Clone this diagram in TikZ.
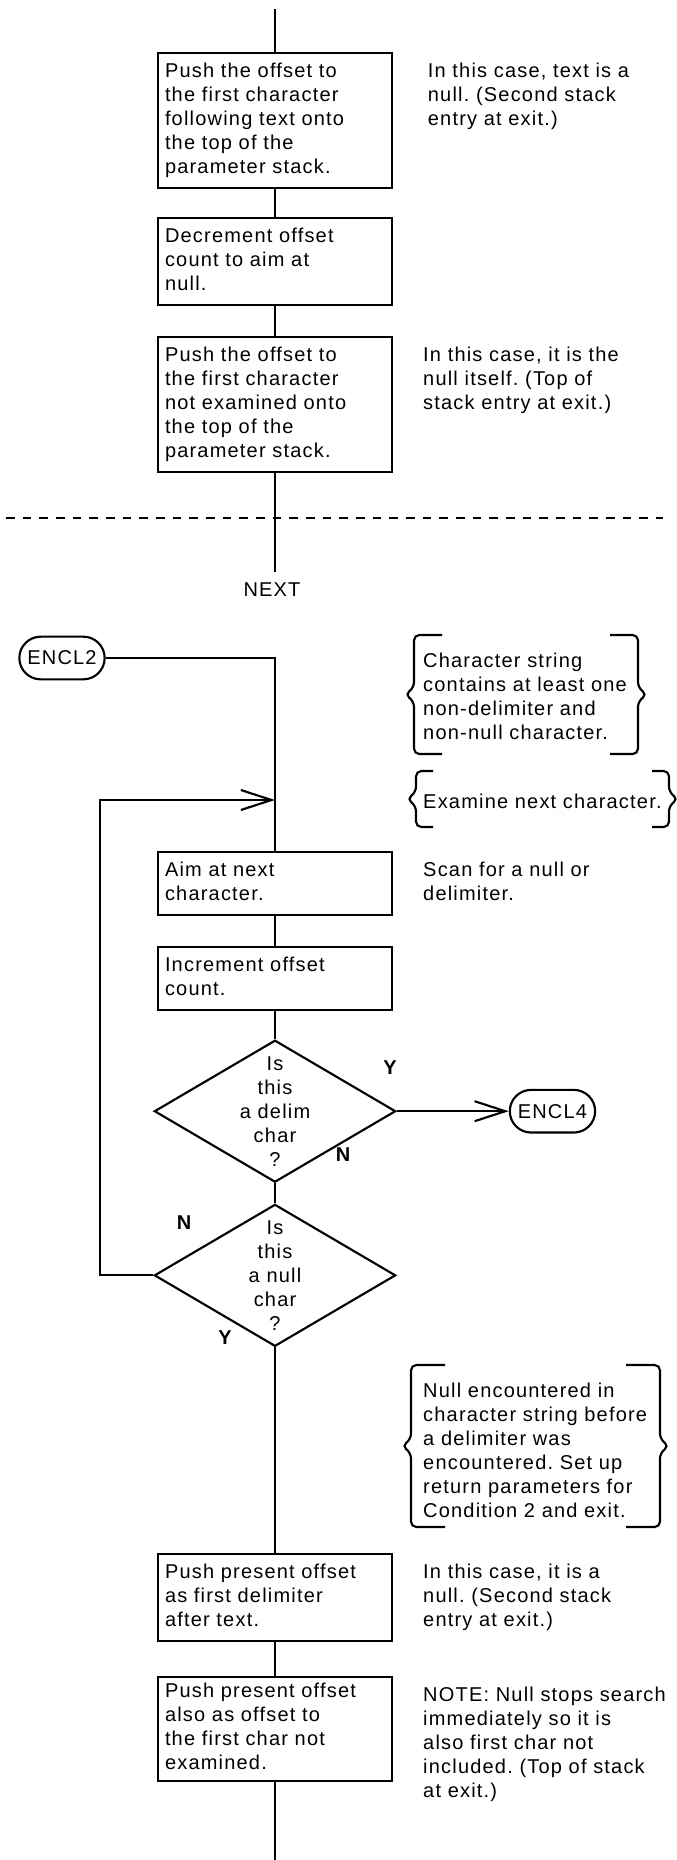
\documentclass[tikz,border=0pt]{standalone}
\usepackage{fontspec}
\setmainfont{Liberation Sans}[LetterSpace=6]
\usetikzlibrary{positioning, arrows.meta, shapes.geometric}
\frenchspacing

% curly note brackets: left x, right x, top y, bottom y, hook length
\newcommand{\notebraces}[5]{%
  \draw[rounded corners=4pt] ({#1+#5},#3) -- (#1,#3) -- (#1,{(#3+#4)/2-7}) -- ({#1-9},{(#3+#4)/2})
    -- (#1,{(#3+#4)/2+7}) -- (#1,#4) -- ({#1+#5},#4);
  \draw[rounded corners=4pt] ({#2-#5},#3) -- (#2,#3) -- (#2,{(#3+#4)/2-7}) -- ({#2+9},{(#3+#4)/2})
    -- (#2,{(#3+#4)/2+7}) -- (#2,#4) -- ({#2-#5},#4);}

\begin{document}
\begin{tikzpicture}[x=0.75pt, y=-0.75pt, line width=1.6pt,
    font=\fontsize{15}{18}\selectfont,
    proc/.style={draw, text width=165pt, align=left, inner xsep=5pt, inner ysep=5.6pt,
      execute at begin node=\strut, execute at end node=\strut},
    note/.style={text width=190pt, align=left, inner xsep=5pt, inner ysep=5.6pt, anchor=north west,
      execute at begin node=\strut, execute at end node=\strut},
    term/.style={draw, rounded corners=16pt, minimum width=64pt, minimum height=32pt, inner sep=1pt},
    dec/.style={draw, diamond, minimum width=181pt, minimum height=106.5pt, inner sep=0pt},
    qtext/.style={align=center, inner sep=0pt},
    yn/.style={font=\fontsize{15}{18}\selectfont\bfseries},
    flow/.style={-{Straight Barb[length=23pt,width=15pt]}}]
  \useasboundingbox (0,0) rectangle (677,1860);
  \coordinate (top) at (275,9);
  \coordinate (nx) at (415.5,0);

  % end of the previous path
  \node[proc, anchor=north] (b1) at (275,52) {Push the offset to\\the first character\\following text onto\\the top of the\\parameter stack.};
  \node[proc, below=21pt of b1] (b2) {Decrement offset\\count to aim at\\null.};
  \node[proc, below=22.5pt of b2] (b3) {Push the offset to\\the first character\\not examined onto\\the top of the\\parameter stack.};
  \node[note, xshift=3.5pt] (n1) at (b1.north -| nx) {In this case, text is a\\null. (Second stack\\entry at exit.)};
  \node[note] (n3) at (b3.north -| nx) {In this case, it is the\\null itself. (Top of\\stack entry at exit.)};
  \coordinate (nxt) at (275,572);
  \node (next) at (272,590) {NEXT};
  \draw (top) -- (b1);
  \draw (b1) -- (b2);
  \draw (b2) -- (b3);
  \draw (b3) -- (nxt);
  \draw[dash pattern=on 6.5pt off 6pt] (6,518) -- (663,518);

  % ENCL2 scan loop
  \node[term] (encl2) at (62,658) {ENCL2};
  \node[note] (nc) at (415.5,642) {Character string\\contains at least one\\non-delimiter and\\non-null character.};
  \node[note] (ne) at (415.5,783) {Examine next character.};
  \notebraces{414}{638}{635}{754}{28}
  \notebraces{416}{669}{771}{827}{17}
  \coordinate (lp) at (100,800);
  \node[proc, anchor=north] (aim) at (275,851) {Aim at next\\character.};
  \node[proc, below=22.5pt of aim] (incr) {Increment offset\\count.};
  \node[note] (ns) at (aim.north -| nx) {Scan for a null or\\delimiter.};
  \node[dec, below=21pt of incr] (d1) {};
  \node[qtext] (d1t) at (d1) {Is\\this\\a delim\\char\\?};
  \node[dec, below=15pt of d1] (d2) {};
  \node[qtext] (d2t) at (d2) {Is\\this\\a null\\char\\?};
  \node[term, right=84pt of d1] (encl4) {ENCL4};
  \node[yn] (y1) at (390,1068) {Y};
  \node[yn] (no1) at (343,1155) {N};
  \node[yn] (no2) at (184,1223) {N};
  \node[yn] (y2) at (225,1338) {Y};
  \draw (encl2.east) -| (aim.north);
  \draw (aim) -- (incr);
  \draw (incr) -- (d1);
  \draw (d1) -- (d2);
  \draw[flow] (d1.east) -- (encl4.west);
  \draw[flow] (d2.west) -| (lp) -- (lp -| aim);

  % null found first
  \node[note] (nb) at (415.5,1372) {Null encountered in\\character string before\\a delimiter was\\encountered. Set up\\return parameters for\\Condition 2 and exit.};
  \notebraces{411}{660}{1365}{1527}{34}
  \node[proc, anchor=north] (b5) at (275,1553) {Push present offset\\as first delimiter\\after text.};
  \node[proc, below=25.5pt of b5, inner ysep=3pt] (b6) {Push present offset\\also as offset to\\the first char not\\examined.};
  \node[note] (n5) at (b5.north -| nx) {In this case, it is a\\null. (Second stack\\entry at exit.)};
  \node[note] (n6) at (b6.north -| nx) {NOTE: Null stops search\\immediately so it is\\also first char not\\included. (Top of stack\\at exit.)};
  \coordinate (bot) at (275,1860);
  \draw (d2) -- (b5);
  \draw (b5) -- (b6);
  \draw (b6) -- (bot);
\end{tikzpicture}
\end{document}
